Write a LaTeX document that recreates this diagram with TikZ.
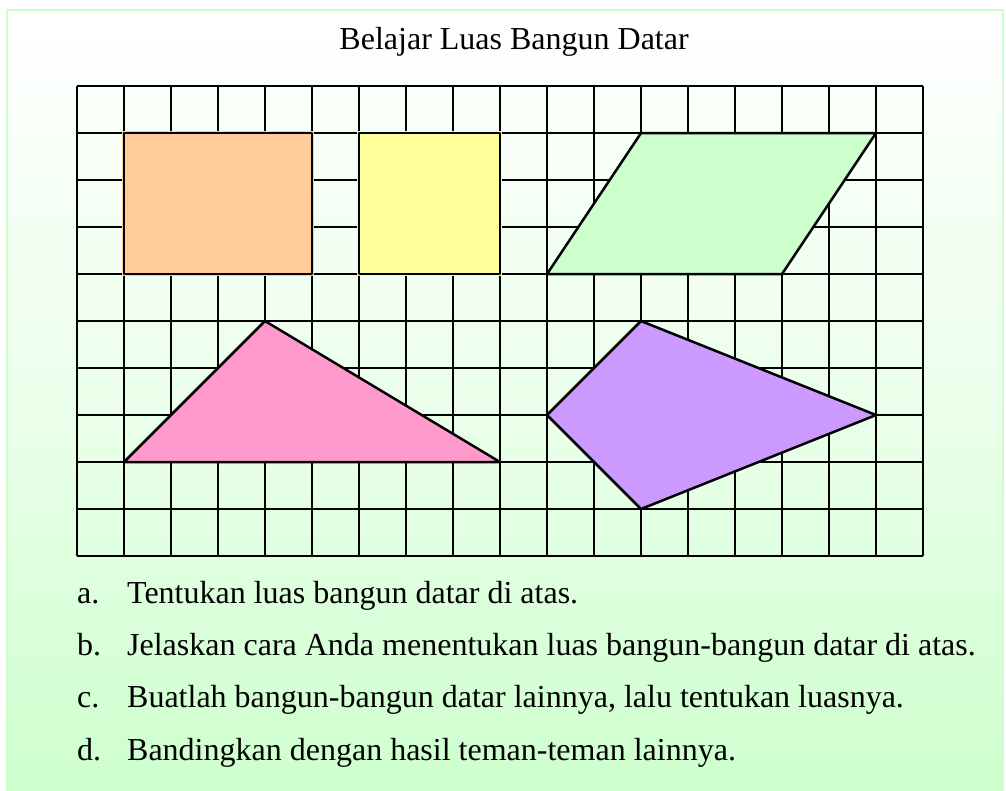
\documentclass[tikz,border=0pt]{standalone}
\usepackage{fontspec}
\setmainfont{Liberation Serif}
\usetikzlibrary{positioning}
\definecolor{hijau}{RGB}{204,255,204}
\definecolor{oranye}{RGB}{255,204,153}
\definecolor{kuning}{RGB}{255,255,153}
\definecolor{merahmuda}{RGB}{255,153,204}
\definecolor{ungu}{RGB}{204,153,255}

\begin{document}
\begin{tikzpicture}[x=47pt,y=47pt]
\tikzstyle{teks} =[anchor=base west,inner sep=0pt,font=\fontsize{32}{38}\selectfont]
\tikzstyle{bangun} =[draw=black,line width=2.5pt,line join=round]

\useasboundingbox (-1.638,-4.979) rectangle (19.766,11.83);
\shade[top color=white,bottom color=hijau,middle color=hijau!40] (-1.49,-5.3) rectangle (19.70,11.617);
\draw[hijau,line width=2pt] (-1.49,-5.3) rectangle (19.70,11.617);

\node[teks,anchor=base] (judul) at (9.30,10.77) {Belajar Luas Bangun Datar};

% kotak-kotak
\foreach \i in {0,...,18} \draw[line width=2.5pt] (\i,0) -- (\i,10);
\foreach \j in {0,...,10} \draw[line width=2.5pt] (0,\j) -- (18,\j);

% persegi panjang dan persegi
\filldraw[draw=oranye,line width=4.5pt,fill=oranye] (1,6) rectangle (5,9);
\draw[bangun] (1,6) rectangle (5,9);
\filldraw[draw=kuning,line width=4.5pt,fill=kuning] (6,6) rectangle (9,9);
\draw[bangun] (6,6) rectangle (9,9);
% jajar genjang
\filldraw[bangun,fill=hijau] (10,6) -- (12,9) -- (17,9) -- (15,6) -- cycle;
% segitiga
\filldraw[bangun,fill=merahmuda] (1,2) -- (4,5) -- (9,2) -- cycle;
% layang-layang
\filldraw[bangun,fill=ungu] (12,5) -- (17,3) -- (12,1) -- (10,3) -- cycle;

\node[teks] (la) at (0,-1.0) {a.};
\node[teks] (ta) at (1.064,-1.0) {Tentukan luas bangun datar di atas.};
\node[teks] (lb) at (0,-2.11) {b.};
\node[teks] (tb) at (1.064,-2.11) {Jelaskan cara Anda menentukan luas bangun-bangun datar di atas.};
\node[teks] (lc) at (0,-3.23) {c.};
\node[teks] (tc) at (1.064,-3.23) {Buatlah bangun-bangun datar lainnya, lalu tentukan luasnya.};
\node[teks] (ld) at (0,-4.36) {d.};
\node[teks] (td) at (1.064,-4.36) {Bandingkan dengan hasil teman-teman lainnya.};
\end{tikzpicture}
\end{document}
